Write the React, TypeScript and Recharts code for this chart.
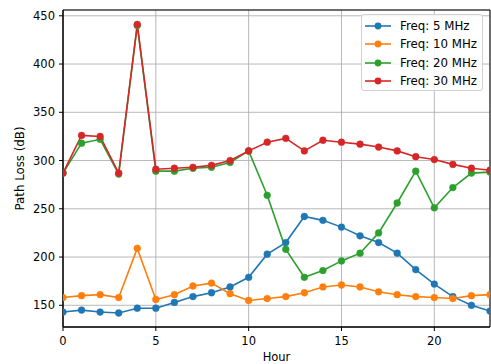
import React from 'react';
import { LineChart, Line, XAxis, YAxis, CartesianGrid, Legend, ReferenceArea } from 'recharts';

const hours = [0,1,2,3,4,5,6,7,8,9,10,11,12,13,14,15,16,17,18,19,20,21,22,23];
const freq5 = [143,145,143,142,147,147,153,159,163,169,179,203,215,242,238,231,222,215,204,187,172,159,150,144];
const freq10 = [158,160,161,158,209,156,161,170,173,162,155,157,159,163,169,171,169,164,161,159,158,157,160,161];
const freq20 = [287,318,322,286,440,289,289,292,293,298,310,264,208,179,186,196,204,225,256,289,251,272,287,288];
const freq30 = [287,326,325,287,441,291,292,293,295,300,310,319,323,310,321,319,317,314,310,304,301,296,292,290];
const xTicks = [0,5,10,15,20];
const yTicks = [150,200,250,300,350,400,450];

const seriesNames = ['Freq: 5 MHz','Freq: 10 MHz','Freq: 20 MHz','Freq: 30 MHz'];
const seriesKeys = ['f5','f10','f20','f30'];
const colors = ['#1f77b4','#ff7f0e','#2ca02c','#d62728'];

const data = hours.map((h, i) => ({ hour: h, f5: freq5[i], f10: freq10[i], f20: freq20[i], f30: freq30[i] }));

const FONT = 'DejaVu Sans, sans-serif';

const LegendBox = () => (
  <div style={{
    width: 122, height: 77, border: '1px solid #d0d0d0', borderRadius: 3,
    background: 'rgba(255,255,255,0.8)', boxSizing: 'border-box', paddingTop: 2,
    fontFamily: FONT, fontSize: 11.8, color: '#000'
  }}>
    {seriesNames.map((n, i) => (
      <div key={n} style={{ height: 18.3, display: 'flex', alignItems: 'center' }}>
        <svg width={38} height={10} style={{ flex: 'none' }}>
          <line x1={3} y1={5} x2={29} y2={5} stroke={colors[i]} strokeWidth={1.6} />
          <circle cx={16} cy={5} r={3.4} fill={colors[i]} />
        </svg>
        <span style={{ whiteSpace: 'nowrap' }}>{n}</span>
      </div>
    ))}
  </div>
);

export default function App() {
  return (
    <div style={{ position: 'absolute', left: 0, top: 0, width: 491, height: 364, background: '#fff' }}>
      <LineChart width={491} height={364} data={data} margin={{ top: 10, right: 1, left: 0, bottom: 0 }}>
        <CartesianGrid stroke="#b0b0b0" strokeWidth={0.9} />
        <XAxis
          dataKey="hour" type="number" domain={[0, 23]} ticks={xTicks} allowDataOverflow
          height={37} tickSize={4} tickMargin={6}
          stroke="#000" tick={{ fill: '#000', fontSize: 11.5, fontFamily: FONT }}
          label={{ value: 'Hour', position: 'insideBottom', offset: 3, style: { fill: '#000', fontSize: 11.5, fontFamily: FONT } }}
        />
        <YAxis
          type="number" domain={[127.5, 456]} ticks={yTicks} allowDataOverflow
          width={63} tickSize={4} tickMargin={4}
          stroke="#000" tick={{ fill: '#000', fontSize: 11.5, fontFamily: FONT }}
          label={{ value: 'Path Loss (dB)', angle: -90, position: 'insideLeft', offset: 20, style: { fill: '#000', fontSize: 11.8, fontFamily: FONT, textAnchor: 'middle' } }}
        />
        <ReferenceArea x1={0} x2={23} y1={127.5} y2={456} fill="none" stroke="#000" strokeWidth={1} ifOverflow="extendDomain" />
        {seriesKeys.map((k, i) => (
          <Line key={k} dataKey={k} name={seriesNames[i]} stroke={colors[i]} strokeWidth={1.6}
            dot={{ r: 3.4, fill: colors[i], stroke: colors[i], strokeWidth: 0.5 }}
            activeDot={false} isAnimationActive={false} type="linear" />
        ))}
        <Legend layout="horizontal" verticalAlign="middle" align="center" content={() => null} />
      </LineChart>
      <div style={{ position: 'absolute', left: 361, top: 14 }}>
        <LegendBox />
      </div>
    </div>
  );
}
